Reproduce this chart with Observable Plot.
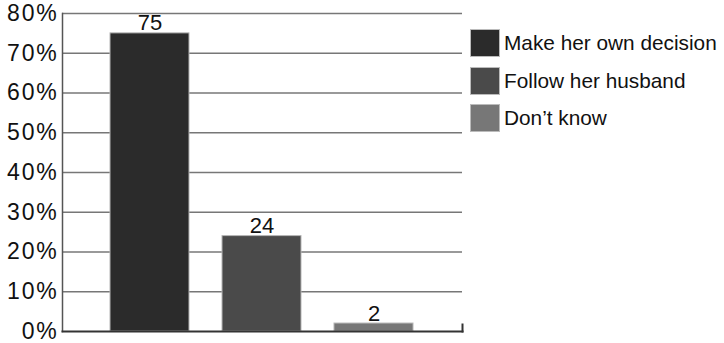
<!DOCTYPE html>
<html>
<head>
<meta charset="utf-8">
<script src="https://cdn.jsdelivr.net/npm/d3@7"></script>
<script src="https://cdn.jsdelivr.net/npm/@observablehq/plot@0.6"></script>
<style>
  html, body { margin: 0; padding: 0; background: #fff; }
  #wrap { position: relative; width: 724px; height: 343px; font-family: "Liberation Sans", Arial, sans-serif; }
  #legend { position: absolute; left: 470px; top: 29px; }
  .item { display: flex; align-items: center; height: 28px; margin-bottom: 9.5px; }
  .sw { width: 30px; height: 28px; box-sizing: border-box; border: 1px solid #bbb; margin-right: 4px; }
  .lab { font-size: 20.8px; color: #111; white-space: nowrap; }
</style>
</head>
<body>
<div id="wrap"></div>
<script>
const categories = ["Make her own decision", "Follow her husband", "Don\u2019t know"];
const values = [75, 24, 2];
const colors = ["#2b2b2b", "#4a4a4a", "#777777"];
const yTicks = [0, 10, 20, 30, 40, 50, 60, 70, 80];

const data = categories.map((c, i) => ({category: c, value: values[i]}));

const chart = Plot.plot({
  width: 724,
  height: 343,
  marginLeft: 62,
  marginRight: 262,
  marginTop: 13,
  marginBottom: 12,
  style: {fontFamily: "'Liberation Sans', Arial, sans-serif", background: "#fff"},
  x: {domain: categories, paddingInner: 0.292, paddingOuter: 0.416, axis: null},
  y: {domain: [0, 80], ticks: yTicks, axis: null},
  color: {domain: categories, range: colors},
  marks: [
    Plot.ruleY(yTicks.filter(d => d > 0), {stroke: "#777", strokeWidth: 1.5}),
    Plot.barY(data, {x: "category", y: "value", fill: "category", stroke: "#b5b5b5", strokeWidth: 1}),
    Plot.text(data, {x: "category", y: "value", text: d => String(d.value), dy: -10, fontSize: 22, fill: "#111"}),
    Plot.axisY({ticks: yTicks, tickFormat: d => d + "%", tickSize: 0, tickPadding: 4, fontSize: 23, fill: "#111", anchor: "left", label: null}),
    Plot.frame({anchor: "left", stroke: "#555", strokeWidth: 1.5}),
    Plot.frame({anchor: "bottom", stroke: "#333", strokeWidth: 2}),
    Plot.frame({anchor: "right", insetTop: 311, stroke: "#333", strokeWidth: 2})
  ]
});

d3.select(chart).selectAll('g[aria-label="y-axis tick label"] text').attr("letter-spacing", "1.8px");

const wrap = document.getElementById("wrap");
wrap.appendChild(chart);

const legend = document.createElement("div");
legend.id = "legend";
categories.forEach((c, i) => {
  const item = document.createElement("div");
  item.className = "item";
  const sw = document.createElement("div");
  sw.className = "sw";
  sw.style.background = colors[i];
  const lab = document.createElement("span");
  lab.className = "lab";
  lab.textContent = c;
  item.appendChild(sw);
  item.appendChild(lab);
  legend.appendChild(item);
});
wrap.appendChild(legend);
</script>
</body>
</html>
